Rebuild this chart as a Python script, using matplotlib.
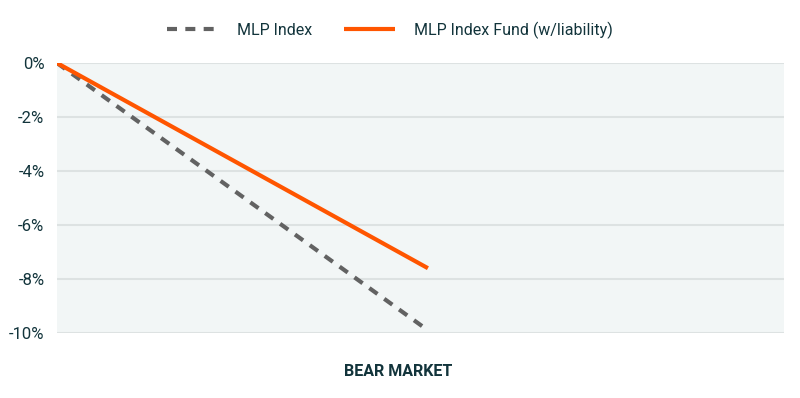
import matplotlib
matplotlib.use("Agg")
import matplotlib.pyplot as plt

plt.rcParams['font.family'] = ['Roboto', 'DejaVu Sans']

x_points = [0, 1]
mlp_index = [0.0, -9.9]
mlp_fund = [0.0, -7.6]
series_names = ["MLP Index", "MLP Index Fund (w/liability)"]
y_ticks = [0, -2, -4, -6, -8, -10]
y_tick_labels = ["0%", "-2%", "-4%", "-6%", "-8%", "-10%"]
category_label = "BEAR MARKET"

text_color = "#12343b"

fig = plt.figure(figsize=(8, 3.98), dpi=100)
ax = fig.add_axes([57/800, 1-333/398, (784-57)/800, (333-63)/398])
ax.set_facecolor("#f2f6f6")

ax.plot(x_points, mlp_index, color="#626262", lw=3, linestyle=(0, (2.4, 2.0)),
        label=series_names[0], solid_capstyle='butt', dash_capstyle='butt')
ax.plot(x_points, mlp_fund, color="#ff5500", lw=3, label=series_names[1],
        solid_capstyle='butt')

ax.set_xlim(0, 1.96)
ax.set_ylim(-10, 0)
ax.set_yticks(y_ticks)
ax.set_yticklabels(y_tick_labels, color=text_color, fontsize=12)
ax.yaxis.grid(True, color="#dde2e2", lw=1.5)
ax.set_axisbelow(True)
ax.tick_params(axis='y', length=0, pad=9)
ax.set_xticks([0.92])
ax.set_xticklabels([category_label], color=text_color, fontsize=11.5, fontweight='bold')
ax.tick_params(axis='x', length=0, pad=22)
for s in ax.spines.values():
    s.set_visible(False)

fig.legend(loc='center', bbox_to_anchor=(390/800, 1-30/398), ncol=2, frameon=False,
           fontsize=11.5, labelcolor=text_color, handlelength=3.2, columnspacing=2.0,
           handletextpad=1.2)

fig.savefig("out.png", dpi=100)
